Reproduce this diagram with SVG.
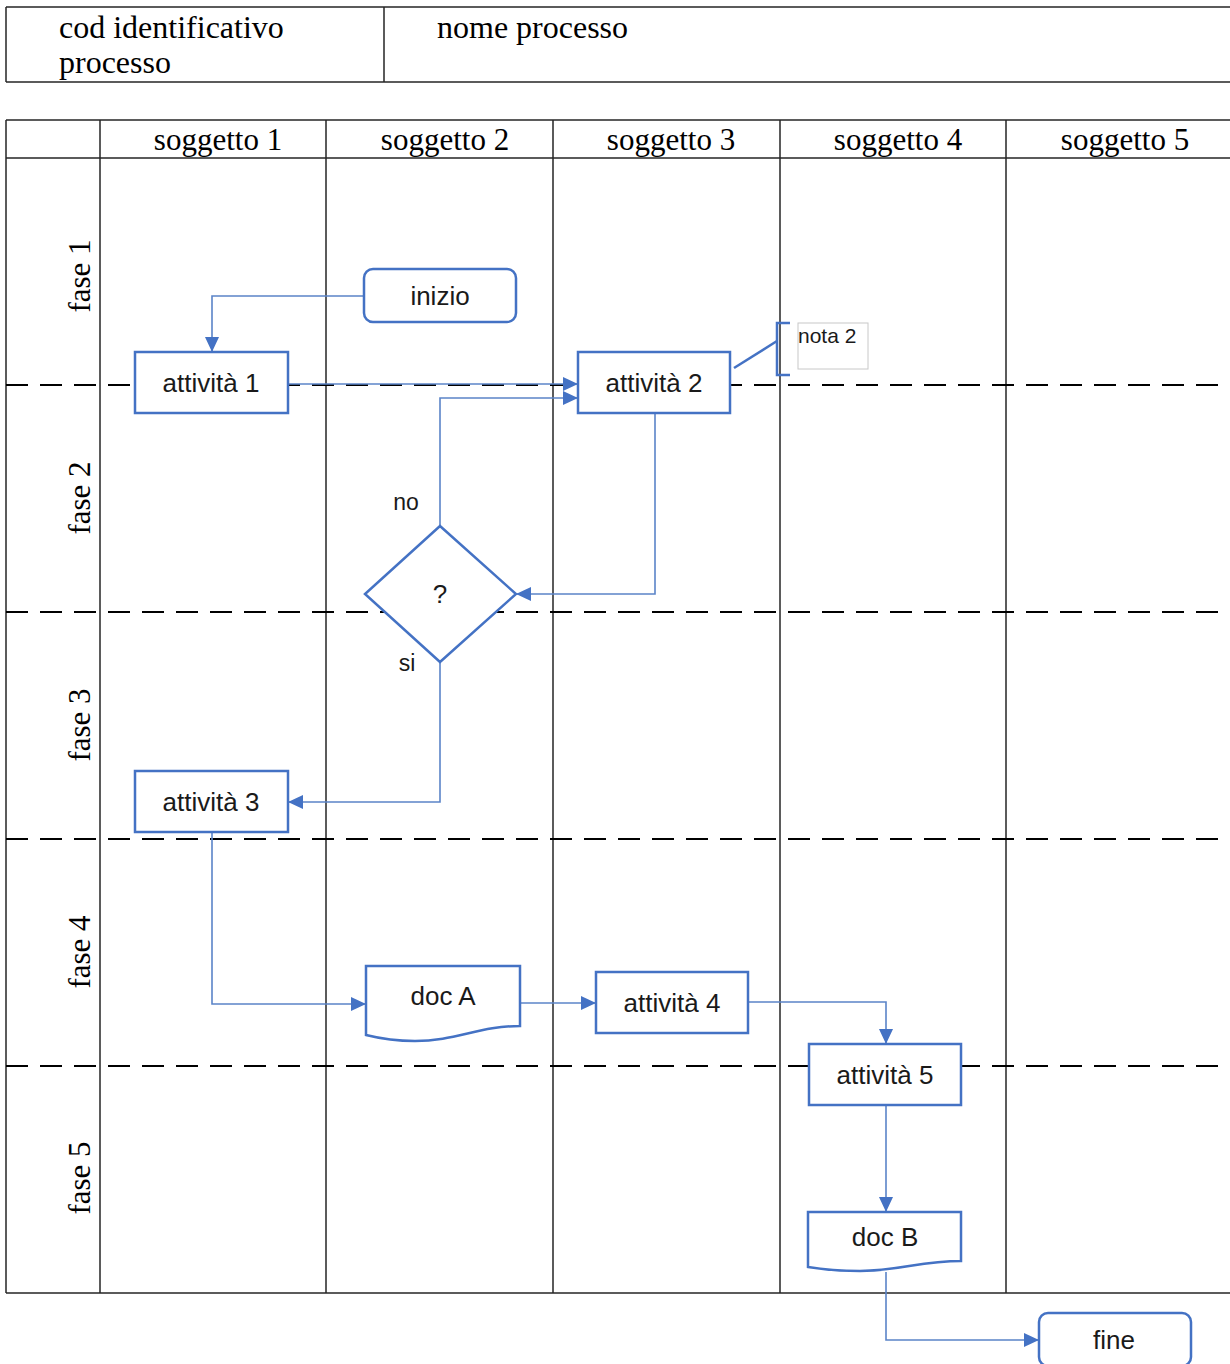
<svg xmlns="http://www.w3.org/2000/svg" width="1230" height="1364" viewBox="0 0 1230 1364">
<style>
.grid{stroke:#262626;stroke-width:1.5;fill:none}
.dash{stroke:#000;stroke-width:2;stroke-dasharray:22 12;fill:none}
.hdr{font-family:"Liberation Serif",serif;font-size:31px;fill:#000}
.top{font-size:32px}
.node{fill:#fff;stroke:#4472C4;stroke-width:2.5}
.lbl{font-family:"Liberation Sans",Arial,sans-serif;font-size:26px;fill:#1a1a1a;text-anchor:middle;dominant-baseline:central}
.small{font-family:"Liberation Sans",Arial,sans-serif;font-size:23px;fill:#1a1a1a;text-anchor:middle;dominant-baseline:central}
.conn{fill:none;stroke:#5B84C8;stroke-width:1.6}
.brk{fill:none;stroke:#4472C4;stroke-width:2.5}
</style>
<defs>
<marker id="arr" markerWidth="16" markerHeight="16" refX="14" refY="8" orient="auto" markerUnits="userSpaceOnUse">
<path d="M0,1 L15,8 L0,15 Z" fill="#4472C4"/>
</marker>
</defs>
<rect width="1230" height="1364" fill="#fff"/>
<g id="title-table">
<path class="grid" d="M6,7 H1232 M6,82 H1232 M6,7 V82 M384,7 V82"/>
<text class="hdr top" x="59" y="38">cod identificativo</text>
<text class="hdr top" x="59" y="73">processo</text>
<text class="hdr top" x="437" y="38">nome processo</text>
</g>
<g id="swimlanes">
<path class="grid" d="M6,120 H1232 M6,158 H1232 M6,1293 H1232 M6,120 V1293 M100,120 V1293 M326,120 V1293 M553,120 V1293 M780,120 V1293 M1006,120 V1293"/>
<path class="dash" d="M6,385 H1232 M6,612 H1232 M6,839 H1232 M6,1066 H1232"/>
<text class="hdr" x="218" y="150" text-anchor="middle">soggetto 1</text>
<text class="hdr" x="445" y="150" text-anchor="middle">soggetto 2</text>
<text class="hdr" x="671" y="150" text-anchor="middle">soggetto 3</text>
<text class="hdr" x="898" y="150" text-anchor="middle">soggetto 4</text>
<text class="hdr" x="1125" y="150" text-anchor="middle">soggetto 5</text>
<text class="hdr" text-anchor="middle" transform="translate(90,276) rotate(-90)">fase 1</text>
<text class="hdr" text-anchor="middle" transform="translate(90,498) rotate(-90)">fase 2</text>
<text class="hdr" text-anchor="middle" transform="translate(90,725) rotate(-90)">fase 3</text>
<text class="hdr" text-anchor="middle" transform="translate(90,952) rotate(-90)">fase 4</text>
<text class="hdr" text-anchor="middle" transform="translate(90,1178) rotate(-90)">fase 5</text>
</g>
<g id="connectors">
<path class="conn" d="M364,296 H212 V351" marker-end="url(#arr)"/>
<path class="conn" d="M288,384 H577" marker-end="url(#arr)"/>
<path class="conn" d="M655,413 V594 H517" marker-end="url(#arr)"/>
<path class="conn" d="M440,526 V398 H577" marker-end="url(#arr)"/>
<path class="conn" d="M440,662 V802 H289" marker-end="url(#arr)"/>
<path class="conn" d="M212,832 V1004 H365" marker-end="url(#arr)"/>
<path class="conn" d="M520,1003 H595" marker-end="url(#arr)"/>
<path class="conn" d="M748,1002 H886 V1043" marker-end="url(#arr)"/>
<path class="conn" d="M886,1105 V1211" marker-end="url(#arr)"/>
<path class="conn" d="M886,1272 V1340 H1038" marker-end="url(#arr)"/>
<path class="brk" d="M734,368 L777,341"/>
<path class="brk" d="M790,323 H777 V375 H790"/>
</g>
<g id="inizio">
<rect class="node" x="364" y="269" width="152" height="53" rx="9"/>
<text class="lbl" x="440" y="296">inizio</text>
</g>
<g id="attivita1">
<rect class="node" x="135" y="352" width="153" height="61"/>
<text class="lbl" x="211" y="383">attività 1</text>
</g>
<g id="attivita2">
<rect class="node" x="578" y="352" width="152" height="61"/>
<text class="lbl" x="654" y="383">attività 2</text>
</g>
<g id="nota2">
<rect x="798" y="323" width="70" height="46" fill="#fff" stroke="#c8c8c8" stroke-width="1"/>
<text x="798" y="343" font-family="Liberation Sans, Arial, sans-serif" font-size="21" fill="#1a1a1a">nota 2</text>
</g>
<g id="decisione">
<path class="node" d="M440,526 L516,594 L440,662 L365,594 Z"/>
<text class="lbl" x="440" y="594">?</text>
<text class="small" x="406" y="502">no</text>
<text class="small" x="407" y="663">si</text>
</g>
<g id="attivita3">
<rect class="node" x="135" y="771" width="153" height="61"/>
<text class="lbl" x="211" y="802">attività 3</text>
</g>
<g id="docA">
<path class="node" d="M366,966 H520 V1026 C480,1026 455,1041 415,1041 C392,1041 378,1038 366,1035 Z"/>
<text class="lbl" x="443" y="996">doc A</text>
</g>
<g id="attivita4">
<rect class="node" x="596" y="972" width="152" height="61"/>
<text class="lbl" x="672" y="1003">attività 4</text>
</g>
<g id="attivita5">
<rect class="node" x="809" y="1044" width="152" height="61"/>
<text class="lbl" x="885" y="1075">attività 5</text>
</g>
<g id="docB">
<path class="node" d="M808,1212 H961 V1261 C921,1261 898,1271 860,1271 C835,1271 820,1269 808,1267 Z"/>
<text class="lbl" x="885" y="1237">doc B</text>
</g>
<g id="fine">
<rect class="node" x="1039" y="1313" width="152" height="53" rx="9"/>
<text class="lbl" x="1114" y="1340">fine</text>
</g>
</svg>
